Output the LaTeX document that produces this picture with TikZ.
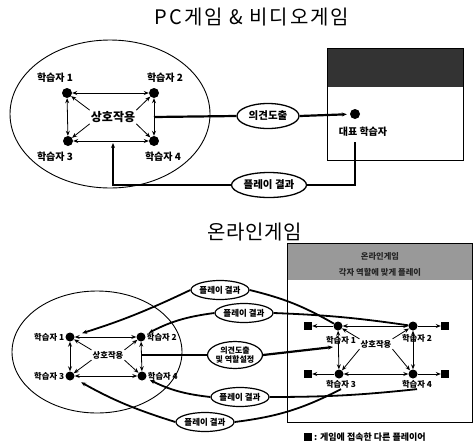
\documentclass[tikz,border=0pt]{standalone}
\usepackage{fontspec}
\setmainfont{Noto Sans CJK KR}
\usetikzlibrary{arrows.meta,shapes.geometric}
\begin{document}
\begin{tikzpicture}[x=1pt,y=-1pt,
  dot/.style={circle,fill=black,inner sep=0pt,minimum size=10pt},
  sdot/.style={circle,fill=black,inner sep=0pt,minimum size=9pt},
  sq/.style={rectangle,fill=black,inner sep=0pt,minimum size=8pt},
  lbl/.style={font=\bfseries\fontsize{10}{11}\selectfont,inner sep=1pt},
  slbl/.style={font=\bfseries\fontsize{8.3}{9}\selectfont,inner sep=1pt},
  ttl/.style={font=\fontsize{20}{21}\selectfont},
  oval/.style={draw,ellipse,line width=1.3pt,inner sep=0pt,font=\bfseries\fontsize{10.5}{11}\selectfont},
  soval/.style={draw,ellipse,line width=1.2pt,inner sep=0pt,align=center,font=\bfseries\fontsize{8.5}{9}\selectfont},
  thinl/.style={line width=0.8pt},
  heavy/.style={line width=2.2pt},
  mid/.style={line width=1.8pt},
  arr/.style={-{Stealth[length=5pt,width=4pt]}},
  darr/.style={{Stealth[length=5pt,width=4pt]}-{Stealth[length=5pt,width=4pt]}},
]
\useasboundingbox (0,0) rectangle (474,445);

% ---------- top ----------
\node[ttl] (t1) at (252,17) {\addfontfeature{LetterSpace=10}PC게임 \& 비디오게임};
\node[draw,ellipse,line width=0.9pt,minimum width=200pt,minimum height=148pt,inner sep=0pt] (g1) at (110,114) {};

\node[dot] (a1) at (67,93) {};
\node[dot] (a2) at (154,93) {};
\node[dot] (a3) at (68,141) {};
\node[dot] (a4) at (154,141) {};
\node[lbl] (la1) at (55,78) {학습자 1};
\node[lbl] (la2) at (165,78) {학습자 2};
\node[lbl] (la3) at (55,157) {학습자 3};
\node[lbl] (la4) at (163,157) {학습자 4};
\node[font=\bfseries\fontsize{12}{13}\selectfont,inner sep=1pt] (c1) at (113,117) {상호작용};

\draw[thinl,darr] (a1) -- (a2);
\draw[thinl,darr] (a1) -- (a3);
\draw[thinl,darr] (a3) -- (a4);
\draw[thinl,darr] (a2) -- (a4);
\draw[thinl,arr] (c1.north west) -- (a1);
\draw[thinl,arr] (c1.north east) -- (a2);
\draw[thinl,arr] (c1.south west) -- (a3);
\draw[thinl,arr] (c1.south east) -- (a4);

\node[fill=black!80,anchor=north west,minimum width=136pt,minimum height=39pt,inner sep=0pt] (band1) at (327,48) {};
\node[draw,line width=0.8pt,anchor=north west,minimum width=136pt,minimum height=112pt,inner sep=0pt] (box1) at (327,48) {};

\node[oval,minimum width=62pt,minimum height=25pt] (o1) at (268,116) {의견도출};
\node[oval,minimum width=75pt,minimum height=25pt] (o2) at (269,185) {플레이 결과};
\node[dot] (r) at (355,114) {};
\node[lbl] (rl) at (363,132) {대표 학습자};

\coordinate (m1) at (154,117);
\coordinate (rb) at (355,142);
\coordinate (pe) at (113,143);
\draw[heavy] (m1) -- (o1.west);
\draw[heavy,arr,shorten >=3pt] (o1.east) -- (r);
\draw[heavy] (rb) |- (o2.east);
\draw[heavy,arr] (o2.west) -| (pe);

% ---------- bottom ----------
\node[ttl] (t2) at (255,232) {\addfontfeature{LetterSpace=3}온라인게임};
\node[draw,ellipse,line width=0.9pt,minimum width=170pt,minimum height=122pt,inner sep=0pt] (g2) at (97,352) {};

\node[sdot] (b1) at (70,337) {};
\node[sdot] (b2) at (141,337) {};
\node[sdot] (b3) at (70,376) {};
\node[sdot] (b4) at (142,376) {};
\node[slbl,anchor=east] (lb1) at (b1.west) {학습자 1};
\node[slbl,anchor=west] (lb2) at (b2.east) {학습자 2};
\node[slbl,anchor=east] (lb3) at (b3.west) {학습자 3};
\node[slbl,anchor=west] (lb4) at (b4.east) {학습자 4};
\node[slbl] (c2) at (108,355) {상호작용};
\draw[thinl,darr] (b1) -- (b2);
\draw[thinl,darr] (b1) -- (b3);
\draw[thinl,darr] (b3) -- (b4);
\draw[thinl,darr] (b2) -- (b4);
\draw[thinl,arr] (c2.north west) -- (b1);
\draw[thinl,arr] (c2.north east) -- (b2);
\draw[thinl,arr] (c2.south west) -- (b3);
\draw[thinl,arr] (c2.south east) -- (b4);

\node[fill=black!40,anchor=north west,minimum width=185pt,minimum height=37pt,inner sep=0pt] (band2) at (287,243) {};
\node[draw,line width=0.8pt,anchor=north west,minimum width=185pt,minimum height=179pt,inner sep=0pt] (box2) at (287,243) {};
\node[slbl,text=black!85] (bt1) at (380,256) {온라인게임};
\node[slbl,text=black!85] (bt2) at (380,272) {각자 역할에 맞게 플레이};

\node[sdot] (d1) at (338,326) {};
\node[sdot] (d2) at (413,326) {};
\node[sdot] (d3) at (339,374) {};
\node[sdot] (d4) at (413,374) {};
\node[sq] (s1) at (308,326) {};
\node[sq] (s2) at (445,326) {};
\node[sq] (s3) at (308,374) {};
\node[sq] (s4) at (445,374) {};
\node[slbl] (ld1) at (341,340) {학습자 1};
\node[slbl] (ld2) at (417,338) {학습자 2};
\node[slbl] (ld3) at (341,384) {학습자 3};
\node[slbl] (ld4) at (417,384) {학습자 4};
\node[slbl] (c3) at (376,344) {상호작용};
\draw[thinl,darr] (d1) -- (d2);
\draw[thinl,darr] (d1) -- (d3);
\draw[thinl,darr] (d3) -- (d4);
\draw[thinl,darr] (d2) -- (d4);
\draw[thinl,arr] (d1) -- (s1);
\draw[thinl,arr] (d2) -- (s2);
\draw[thinl,arr] (d3) -- (s3);
\draw[thinl,arr] (d4) -- (s4);
\draw[thinl,arr] (c3.north west) -- (d1);
\draw[thinl,arr] (c3.north east) -- (d2);
\draw[thinl,arr] (c3.south west) -- (d3);
\draw[thinl,arr] (c3.south east) -- (d4);

\node[soval,minimum width=56pt,minimum height=19pt] (e1) at (220,290) {플레이 결과};
\node[soval,minimum width=56pt,minimum height=19pt] (e2) at (244,313) {플레이 결과};
\node[soval,minimum width=55pt,minimum height=27pt,font=\bfseries\fontsize{8}{8.5}\selectfont] (e3) at (235,355) {의견도출\\및 역할설정};
\node[soval,minimum width=56pt,minimum height=19pt] (e4) at (240,397) {플레이 결과};
\node[soval,minimum width=55pt,minimum height=19pt] (e5) at (205,422) {플레이 결과};

\coordinate (m2) at (142,355);
\coordinate (ie) at (333,347);
\draw[mid,arr,shorten >=8pt] (e1.west) to[bend left=4] (b1);
\draw[mid] (e1.east) to[bend left=8] (d1);
\draw[mid,arr,shorten >=4pt] (e2.west) to[bend right=10] (b2);
\draw[mid] (e2.east) to[bend left=3] (d2);
\draw[heavy] (m2) -- (e3.west);
\draw[heavy,arr] (e3.east) -- (ie);
\draw[mid,arr,shorten >=4pt] (e4.west) to[bend left=10] (b4);
\draw[mid] (e4.east) to[bend right=3] (ld4.south);
\draw[mid,arr,shorten >=8pt] (e5.west) to[bend left=6] (b3);
\draw[mid] (e5.east) to[bend right=10] (ld3.south);

\node[sq] (lsq) at (308,437) {};
\node[font=\bfseries\fontsize{9}{10}\selectfont,inner sep=1pt,anchor=west] (leg) at (313,437) {: 게임에 접속한 다른 플레이어};
\end{tikzpicture}
\end{document}
